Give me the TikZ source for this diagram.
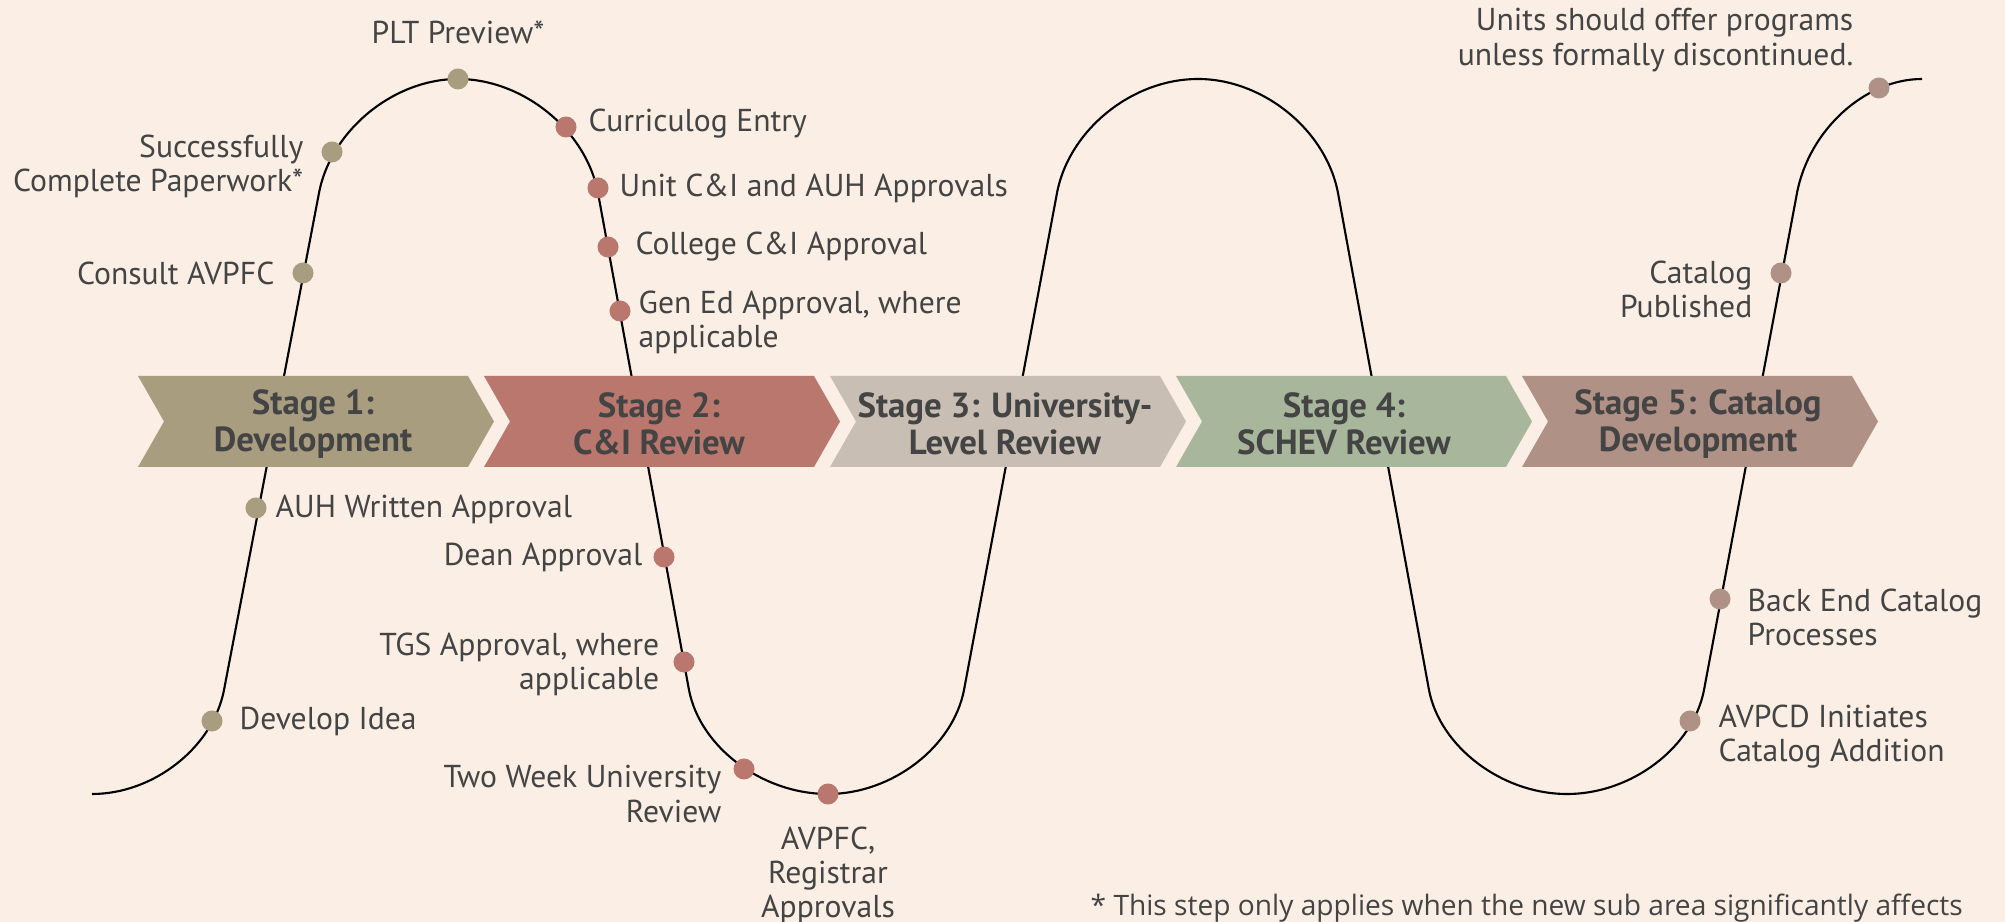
\documentclass[tikz,border=0pt]{standalone}
\usepackage{fontspec}
\setmainfont{PT Sans}
\newfontfamily\notefont{Open Sans}
\usetikzlibrary{positioning}

\definecolor{bgcol}{HTML}{FAEEE5}
\definecolor{txtcol}{HTML}{444444}
\definecolor{stageA}{HTML}{A99D80}
\definecolor{stageB}{HTML}{B9776D}
\definecolor{stageC}{HTML}{C8BEB4}
\definecolor{stageD}{HTML}{A8B79C}
\definecolor{stageE}{HTML}{B09185}

\tikzset{
  wave/.style={line width=0.6pt, black},
  dot/.style={circle, inner sep=0pt, minimum size=0.21cm},
  lbl/.style={text=txtcol, inner sep=0pt, font=\fontsize{9}{9.7}\selectfont},
  stagetxt/.style={text=txtcol, inner sep=0pt, align=center, font=\fontsize{9.9}{10.6}\selectfont\bfseries},
}

\begin{document}
\begin{tikzpicture}[x=0.01cm, y=-0.01cm]
    % 배경
    \fill[bgcol] (0,0) rectangle (2005,922);
    \useasboundingbox (0,0) rectangle (2005,922);

    % Step 1: 좌표 정의 (골짜기 B, 봉우리 T)
    \coordinate (B0) at (92,794);
    \coordinate (T1) at (458,79);
    \coordinate (B1) at (828,794);
    \coordinate (T2) at (1198,79);
    \coordinate (B2) at (1567,794);
    \coordinate (T3) at (1922,79);

    % Step 2: 곡선 (호 + 직선 + 호)
    \draw[wave] (B0)
        .. controls (154,794) and (213,747) .. (224,690) -- (319,193)
        .. controls (331,130) and (394,79) .. (T1)
        .. controls (523,79) and (586,130) .. (598,193) -- (689,690)
        .. controls (700,747) and (762,794) .. (B1)
        .. controls (892,794) and (953,747) .. (964,690) -- (1057,193)
        .. controls (1069,130) and (1132,79) .. (T2)
        .. controls (1263,79) and (1326,130) .. (1338,193) -- (1429,690)
        .. controls (1440,747) and (1502,794) .. (B2)
        .. controls (1632,794) and (1693,747) .. (1704,690) -- (1797,193)
        .. controls (1809,130) and (1865,79) .. (T3);

    % Step 3: 단계 화살표
    \foreach \L/\col in {138/stageA, 484/stageB, 830/stageC, 1176/stageD, 1522/stageE} {
        \fill[\col] (\L,376) -- ++(330,0) -- ++(26,45.5) -- ++(-26,45.5)
            -- ++(-330,0) -- ++(26,-45.5) -- cycle;
    }
    \node[stagetxt] (st1) at (313,424) {Stage 1:\\Development};
    \node[stagetxt] (st2) at (659,424) {Stage 2:\\C\&I Review};
    \node[stagetxt] (st3) at (1005,424) {Stage 3: University-\\Level Review};
    \node[stagetxt] (st4) at (1344,424) {Stage 4:\\SCHEV Review};
    \node[stagetxt] (st5) at (1698,424) {Stage 5: Catalog\\Development};

    % Step 4: 점 표시
    \foreach \name/\pos in {dev/{212,721}, auh/{256,508}, consult/{303,273}, succ/{332,152}, plt/{458,79}} {
        \node[dot, fill=stageA] (\name) at (\pos) {};
    }
    \foreach \name/\pos in {curric/{566,127}, unit/{598,188}, college/{608,247}, gened/{620,311},
                            dean/{664,557}, tgs/{684,662}, twoweek/{744,769}, avpfc/{828,794}} {
        \node[dot, fill=stageB] (\name) at (\pos) {};
    }
    \foreach \name/\pos in {avpcd/{1690,721}, backend/{1720,599}, catpub/{1781,273}, units/{1879,88}} {
        \node[dot, fill=stageE] (\name) at (\pos) {};
    }

    % Step 5: 설명
    \node[lbl] (pltl) at (458,32) {PLT Preview*};
    \node[lbl, anchor=east, align=right] (succl) at (304,166) {Successfully\\Complete Paperwork*};
    \node[lbl, anchor=east] (consultl) at (275,273) {Consult AVPFC};
    \node[lbl, anchor=west] (auhl) at (275,509) {AUH Written Approval};
    \node[lbl, anchor=west] (devl) at (239,721) {Develop Idea};

    \node[lbl, anchor=west] (curricl) at (588,124) {Curriculog Entry};
    \node[lbl, anchor=west] (unitl) at (619,188) {Unit C\&I and AUH Approvals};
    \node[lbl, anchor=west] (collegel) at (635,247) {College C\&I Approval};
    \node[lbl, anchor=west, align=left] (genedl) at (638,322) {Gen Ed Approval, where\\applicable};
    \node[lbl, anchor=east] (deanl) at (643,557) {Dean Approval};
    \node[lbl, anchor=east, align=right] (tgsl) at (660,664) {TGS Approval, where\\applicable};
    \node[lbl, anchor=east, align=right] (twoweekl) at (722,794) {Two Week University\\Review};
    \node[lbl, anchor=north, align=center] (avpfcl) at (828,826) {AVPFC,\\Registrar\\Approvals};

    \node[lbl, anchor=east, align=right] (unitsl) at (1854,40) {Units should offer programs\\unless formally discontinued.};
    \node[lbl, anchor=east, align=right] (catpubl) at (1753,289) {Catalog\\Published};
    \node[lbl, anchor=west, align=left] (backendl) at (1747,617) {Back End Catalog\\Processes};
    \node[lbl, anchor=west, align=left] (avpcdl) at (1718,737) {AVPCD Initiates\\Catalog Addition};

    \node[lbl, anchor=west, font=\notefont\fontsize{8}{9.6}\selectfont] (note) at (1090,908)
        {* This step only applies when the new sub area significantly affects};

\end{tikzpicture}
\end{document}
